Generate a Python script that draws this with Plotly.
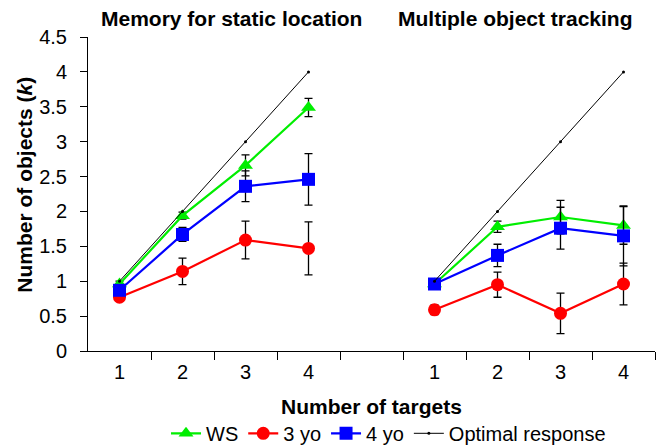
import plotly.graph_objects as go

# ---- data ----
targets = [1, 2, 3, 4]
panel_titles = ["Memory for static location", "Multiple object tracking"]

# Memory for static location
ws_static = [0.96, 1.94, 2.66, 3.49]
ws_static_err = [0.04, 0.05, 0.15, 0.13]
yo3_static = [0.77, 1.14, 1.59, 1.47]
yo3_static_err = [0.05, 0.19, 0.27, 0.38]
yo4_static = [0.87, 1.67, 2.36, 2.46]
yo4_static_err = [0.05, 0.10, 0.22, 0.37]
opt_static = [1, 2, 3, 4]

# Multiple object tracking
ws_mot = [0.96, 1.78, 1.92, 1.80]
ws_mot_err = [0.03, 0.08, 0.24, 0.27]
yo3_mot = [0.59, 0.95, 0.54, 0.96]
yo3_mot_err = [0.07, 0.18, 0.29, 0.30]
yo4_mot = [0.96, 1.37, 1.76, 1.65]
yo4_mot_err = [0.03, 0.16, 0.30, 0.43]
opt_mot = [1, 2, 3, 4]

# x positions of the two panels on one shared axis
x_static = [t for t in targets]
x_mot = [t + 5 for t in targets]

series = [
    ("WS", "#00ee00", "triangle-up", ws_static, ws_static_err, ws_mot, ws_mot_err),
    ("3 yo", "#ff0000", "circle", yo3_static, yo3_static_err, yo3_mot, yo3_mot_err),
    ("4 yo", "#0000ff", "square", yo4_static, yo4_static_err, yo4_mot, yo4_mot_err),
]

FONT = "Liberation Sans, Arial, Helvetica, sans-serif"
fig = go.Figure()

for name, color, sym, ys, es, ym, em in series:
    for i, (xx, yy, ee) in enumerate([(x_static, ys, es), (x_mot, ym, em)]):
        fig.add_trace(go.Scatter(
            x=xx, y=yy, mode="lines+markers", name=name, legendgroup=name,
            showlegend=(i == 0),
            line=dict(color=color, width=2.2),
            marker=dict(symbol=sym, color=color, size=13, line=dict(width=0)),
            error_y=dict(type="data", array=ee, visible=True, color="black",
                         thickness=1.3, width=4),
        ))

for i, (xx, yy) in enumerate([(x_static, opt_static), (x_mot, opt_mot)]):
    fig.add_trace(go.Scatter(
        x=xx, y=yy, mode="lines+markers", name="Optimal response",
        legendgroup="opt", showlegend=(i == 0),
        line=dict(color="black", width=1),
        marker=dict(symbol="circle", color="black", size=3),
    ))

tickvals = x_static + x_mot
ticktext = [str(t) for t in targets] * 2

fig.update_layout(
    width=667, height=447,
    margin=dict(l=88, r=12, t=37, b=96, autoexpand=False),
    paper_bgcolor="white", plot_bgcolor="white",
    font=dict(family=FONT, size=20, color="black"),
    showlegend=True,
    legend=dict(orientation="h", x=0.53, xanchor="center", y=-0.2, yanchor="top",
                font=dict(size=20), itemwidth=30, tracegroupgap=0,
                bgcolor="rgba(0,0,0,0)"),
    xaxis=dict(
        range=[0.5, 9.5], tickmode="array", tickvals=tickvals, ticktext=ticktext,
        ticks="", showgrid=False, zeroline=False, showline=True, automargin=False,
        linecolor="black", linewidth=1, tickfont=dict(size=20), ticklabelstandoff=3,
        minor=dict(tickmode="array", tickvals=[1.5, 2.5, 3.5, 4.5, 5.5, 6.5, 7.5, 8.5, 9.5],
                   ticks="outside", ticklen=8, tickcolor="black", tickwidth=1, showgrid=False),
    ),
    yaxis=dict(
        range=[0, 4.5], tickmode="array",
        tickvals=[0, 0.5, 1, 1.5, 2, 2.5, 3, 3.5, 4, 4.5],
        ticktext=["0", "0.5", "1", "1.5", "2", "2.5", "3", "3.5", "4", "4.5"],
        ticks="outside", ticklen=7, tickcolor="black", tickwidth=1, automargin=False,
        showgrid=False, zeroline=False, showline=True, linecolor="black", linewidth=1,
        tickfont=dict(size=20), ticklabelstandoff=9,
    ),
)

fig.add_annotation(text="<b>Number of objects (<i>k</i>)</b>", x=-0.111, xref="paper",
                   y=0.53, yref="paper", textangle=-90, showarrow=False,
                   font=dict(size=21), xanchor="center", yanchor="middle")
fig.add_annotation(text="<b>%s</b>" % panel_titles[0], x=2.77, xref="x", y=1.0, yref="paper",
                   yshift=19, showarrow=False, font=dict(size=21), yanchor="middle")
fig.add_annotation(text="<b>%s</b>" % panel_titles[1], x=7.28, xref="x", y=1.0, yref="paper",
                   yshift=19, showarrow=False, font=dict(size=21), yanchor="middle")
fig.add_annotation(text="<b>Number of targets</b>", x=0.5, xref="paper", y=-0.178, yref="paper",
                   showarrow=False, font=dict(size=21), yanchor="middle")

fig.write_html("out.html", config={"displayModeBar": False},
               post_script="document.body.style.margin='0';")
